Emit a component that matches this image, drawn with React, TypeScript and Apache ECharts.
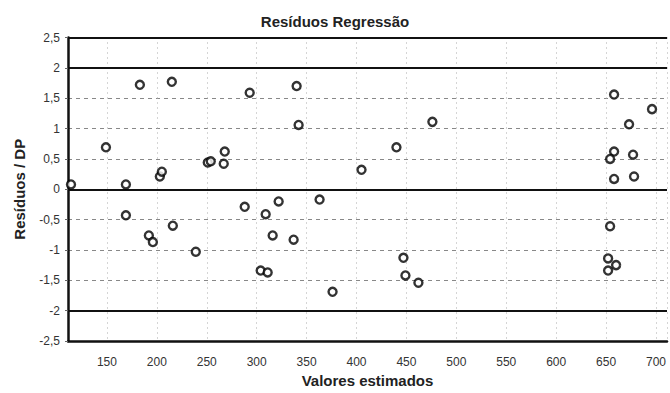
import React, { useEffect, useRef } from "react";
import * as echarts from "echarts";

const titleText = "Resíduos Regressão";
const xName = "Valores estimados";
const yName = "Resíduos / DP";

const estimated = [
  114, 149, 169, 183, 203, 205, 215, 251, 254, 268, 267, 293, 340, 342, 405, 440, 476,
  658, 696, 673, 658, 654, 677, 658, 678,
  169, 192, 196, 216, 239, 288, 309, 322, 316, 337, 304, 311, 363, 376, 447, 449, 462,
  654, 652, 660, 652,
];
const residuals = [
  0.08, 0.69, 0.08, 1.72, 0.21, 0.29, 1.77, 0.44, 0.46, 0.62, 0.42, 1.59, 1.7, 1.06, 0.32, 0.69, 1.11,
  1.56, 1.32, 1.07, 0.62, 0.5, 0.57, 0.17, 0.21,
  -0.43, -0.76, -0.87, -0.6, -1.03, -0.29, -0.41, -0.2, -0.76, -0.83, -1.34, -1.37, -0.17, -1.69, -1.13, -1.42, -1.54,
  -0.61, -1.14, -1.25, -1.34,
];
const limitLines = [2.5, 2, 0, -2];
const xMin = 111;
const xMax = 711;
const yMin = -2.5;
const yMax = 2.5;
const yStep = 0.5;

export default function App() {
  const ref = useRef<HTMLDivElement>(null);
  useEffect(() => {
    document.body.style.margin = "0";
    const chart = echarts.init(ref.current!, null, { renderer: "svg" });
    const font = "Arial, 'Liberation Sans', sans-serif";
    chart.setOption({
      animation: false,
      backgroundColor: "#fff",
      title: {
        text: titleText,
        left: "center",
        top: 9,
        textStyle: { fontFamily: font, fontSize: 15, fontWeight: "bold", color: "#222" },
      },
      grid: { left: 68, right: 0, top: 37.5, bottom: 51, containLabel: false },
      xAxis: {
        type: "value",
        min: xMin,
        max: xMax,
        splitNumber: 12,
        name: xName,
        nameLocation: "middle",
        nameGap: 32,
        nameTextStyle: { fontFamily: font, fontSize: 15, fontWeight: "bold", color: "#222" },
        axisLine: { show: true, onZero: false, lineStyle: { color: "#111", width: 2.5 } },
        axisTick: { show: false },
        axisLabel: {
          margin: 15,
          fontFamily: font,
          fontSize: 12,
          color: "#333",
          formatter: (v: number) => (Math.abs(v % 50) < 1e-6 ? String(v) : ""),
        },
        splitLine: { show: true, lineStyle: { color: "#aaa", type: [1, 4], width: 1 } },
      },
      yAxis: {
        type: "value",
        min: yMin,
        max: yMax,
        interval: yStep,
        name: yName,
        nameLocation: "middle",
        nameRotate: 90,
        nameGap: 41,
        nameTextStyle: { fontFamily: font, fontSize: 15, fontWeight: "bold", color: "#222" },
        axisLine: { show: true, lineStyle: { color: "#111", width: 2.5 } },
        axisTick: { show: true, length: 3, lineStyle: { color: "#666" } },
        axisLabel: {
          margin: 8,
          fontFamily: font,
          fontSize: 12,
          color: "#333",
          formatter: (v: number) => String(v).replace(".", ","),
        },
        splitLine: { show: true, lineStyle: { color: "#888", type: [4, 4], width: 1 } },
      },
      series: [
        {
          type: "scatter",
          data: estimated.map((x, i) => [x, residuals[i]]),
          symbol: "circle",
          symbolSize: 8,
          itemStyle: { color: "#fff", borderColor: "#000", borderWidth: 2.4 },
          z: 5,
          markLine: {
            silent: true,
            symbol: "none",
            label: { show: false },
            lineStyle: { color: "#111", width: 2, type: "solid" },
            data: limitLines.map((v) => ({ yAxis: v })),
            z: 3,
          },
        },
      ],
    });
    return () => chart.dispose();
  }, []);
  return <div ref={ref} style={{ width: 670, height: 393 }} />;
}
